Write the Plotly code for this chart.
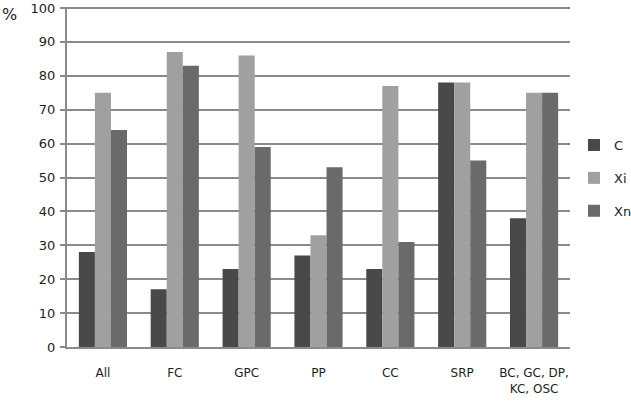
import plotly.graph_objects as go

categories = ["All", "FC", "GPC", "PP", "CC", "SRP", "BC, GC, DP,<br>KC, OSC"]
C = [28, 17, 23, 27, 23, 78, 38]
Xi = [75, 87, 86, 33, 77, 78, 75]
Xn = [64, 83, 59, 53, 31, 55, 75]
y_ticks = list(range(0, 101, 10))

series = [("C", C, "#494949"), ("Xi", Xi, "#a0a0a0"), ("Xn", Xn, "#6a6a6a")]

fig = go.Figure()
for name, vals, col in series:
    fig.add_trace(go.Bar(x=categories, y=vals, name=name, marker_color=col,
                         marker_line_width=0, legendgroup=name))

fig.update_layout(
    width=631, height=402,
    margin=dict(l=67, r=61, t=7, b=55, autoexpand=False),
    paper_bgcolor="white", plot_bgcolor="white",
    barmode="group", bargap=0.33, bargroupgap=0,
    font=dict(family="DejaVu Sans", size=13, color="#1e1e1e"),
    legend=dict(x=1.008, y=0.497, xanchor="left", yanchor="middle",
                traceorder="grouped", tracegroupgap=13, itemwidth=30,
                font=dict(size=13)),
    xaxis=dict(showgrid=False, showline=True, linecolor="#8a8a8a", linewidth=2,
               ticks="", tickfont=dict(size=12), ticklabelstandoff=14),
    yaxis=dict(range=[0, 100.3], tickvals=y_ticks, showgrid=True,
               gridcolor="#8a8a8a", gridwidth=2, showline=True,
               linecolor="#8a8a8a", linewidth=2, ticks="outside",
               ticklen=5, tickcolor="#8a8a8a", tickwidth=2, zeroline=False,
               tickfont=dict(size=13), ticklabelstandoff=2),
)
fig.add_annotation(text="%", xref="paper", yref="paper", x=-0.095, y=0.979,
                   xanchor="right", yanchor="middle", showarrow=False,
                   font=dict(size=16, color="#1e1e1e"))
fig.write_html("out.html", config={"displayModeBar": False},
               post_script="document.body.style.margin='0';")
